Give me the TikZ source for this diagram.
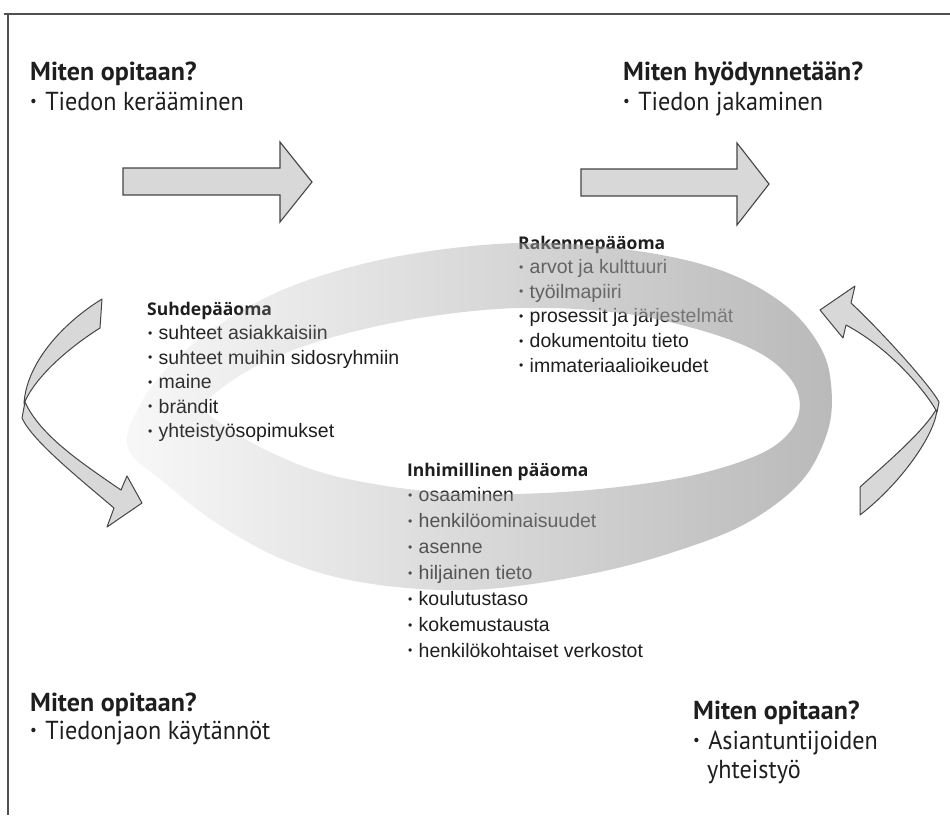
\documentclass[tikz,border=0pt]{standalone}
\usepackage{graphicx}
\usepackage{fontspec}
\setmainfont{Liberation Sans}
\newfontfamily\capfont{Open Sans}
\newfontfamily\qboldfont{PT Sans}
\newfontfamily\condfont[FakeStretch=0.93]{PT Sans}
\usetikzlibrary{fadings}

\definecolor{ink}{HTML}{1E1E1E}
\definecolor{arrowfill}{HTML}{D8D8D8}
\definecolor{arrowline}{HTML}{454545}
\definecolor{framecol}{HTML}{505050}
\definecolor{ringgray}{HTML}{A6A6A6}

% ring fades out towards its left end
\tikzfading[name=ringfade, left color=transparent!92, middle color=transparent!28,
  right color=transparent!22]

% small list bullet
\newcommand\listdot{\raisebox{0.12em}{\scalebox{0.62}{\textbullet}}\hspace{0.32em}}

\tikzset{
  qhead/.style={anchor=base west, inner sep=0pt, text=ink,
    font=\qboldfont\bfseries\fontsize{26}{30}\selectfont},
  qitem/.style={anchor=base west, inner sep=0pt, text=ink,
    font=\condfont\fontsize{26}{30}\selectfont},
  caphead/.style={anchor=base west, inner sep=0pt, text=ink,
    font=\capfont\bfseries\fontsize{17.5}{22}\selectfont},
  capitem/.style={anchor=base west, inner sep=0pt, text=ink,
    font=\fontsize{19.5}{23}\selectfont},
  blockarrow/.style={fill=arrowfill, draw=arrowline, line width=1.1pt, line join=miter},
  ribbon/.style={fill=arrowfill, draw=arrowline, line width=1pt, line join=round},
  framerule/.style={draw=framecol, line width=1.4pt},
}

\begin{document}
\begin{tikzpicture}[x=1pt, y=-1pt]
\useasboundingbox (0,0) rectangle (950,815);

% frame edges
\draw[framerule] (4,14) -- (950,14);
\draw[framerule] (8,14) -- (8,815);

% straight block arrows
\draw[blockarrow] (123,168) -- (280,168) -- (280,142) -- (312,182) -- (280,222)
  -- (280,195) -- (123,195) -- cycle;
\draw[blockarrow] (581,169) -- (737,169) -- (737,143) -- (769,184) -- (737,225)
  -- (737,196) -- (581,196) -- cycle;

% twisted ribbon arrow, left side
\draw[ribbon] (25,402) .. controls (40,435) and (80,462) .. (121,490) -- (127,476)
  -- (142,503) -- (107,527) -- (114,508) .. controls (75,475) and (32,440) .. (22,418) -- cycle;
\draw[ribbon] (102,299) .. controls (60,325) and (26,365) .. (24,404)
  .. controls (32,382) and (62,352) .. (100,328) -- cycle;

% twisted ribbon arrow, right side
\draw[ribbon] (860,487) .. controls (890,460) and (925,430) .. (937,408)
  .. controls (937,430) and (905,480) .. (860,515) -- cycle;
\draw[ribbon] (937,412) .. controls (928,395) and (893,350) .. (846,325) -- (843,338)
  -- (820,310) -- (855,286) -- (851,303) .. controls (880,330) and (930,385) .. (939,402) -- cycle;

% questions in the corners
\node[qhead] (q1h) at (30,80) {Miten opitaan?};
\node[qitem] (q1i) at (30,110) {\listdot Tiedon kerääminen};
\node[qhead] (q2h) at (623,80) {Miten hyödynnetään?};
\node[qitem] (q2i) at (623,110) {\listdot Tiedon jakaminen};
\node[qhead] (q3h) at (30,711) {Miten opitaan?};
\node[qitem] (q3i) at (30,739) {\listdot Tiedonjaon käytännöt};
\node[qhead] (q4h) at (693,719) {Miten opitaan?};
\node[qitem] (q4i) at (693,749) {\listdot Asiantuntijoiden};
\node[qitem] (q4j) at (707,778) {yhteistyö};

% capital groups
\node[caphead] (suhde) at (147,315) {Suhdepääoma};
\foreach \t [count=\i] in {suhteet asiakkaisiin, suhteet muihin sidosryhmiin,
    maine, brändit, yhteistyösopimukset}
  \node[capitem] (suhde\i) at (148,315+24.5*\i) {\listdot\t};

\node[caphead] (rakenne) at (518,249) {Rakennepääoma};
\foreach \t [count=\i] in {arvot ja kulttuuri, työilmapiiri,
    prosessit ja järjestelmät, dokumentoitu tieto, immateriaalioikeudet}
  \node[capitem] (rakenne\i) at (519,249+24.6*\i) {\listdot\t};

\node[caphead] (inhim) at (407,476) {Inhimillinen pääoma};
\foreach \t [count=\i] in {osaaminen, henkilöominaisuudet, asenne, hiljainen tieto,
    koulutustaso, kokemustausta, henkilökohtaiset verkostot}
  \node[capitem] (inhim\i) at (408,476+25.9*\i) {\listdot\t};

% translucent ring laid over the texts
\fill[ringgray, even odd rule, path fading=ringfade]
  plot[smooth cycle, tension=0.6] coordinates {
    (128,448) (140,405) (175,360) (230,318) (300,283) (400,256) (520,243)
    (630,250) (720,270) (785,305) (822,350) (832,395) (826,437) (800,483)
    (747,523) (680,550) (600,572) (500,588) (420,589) (340,578) (275,556)
    (215,522) (165,483)}
  plot[smooth cycle, tension=0.6] coordinates {
    (205,408) (222,388) (265,362) (330,338) (420,318) (520,308) (620,313)
    (700,330) (758,352) (790,378) (800,405) (790,432) (758,455) (690,476)
    (600,489) (515,494) (440,492) (380,485) (320,472) (268,451) (228,428)};
\end{tikzpicture}
\end{document}
